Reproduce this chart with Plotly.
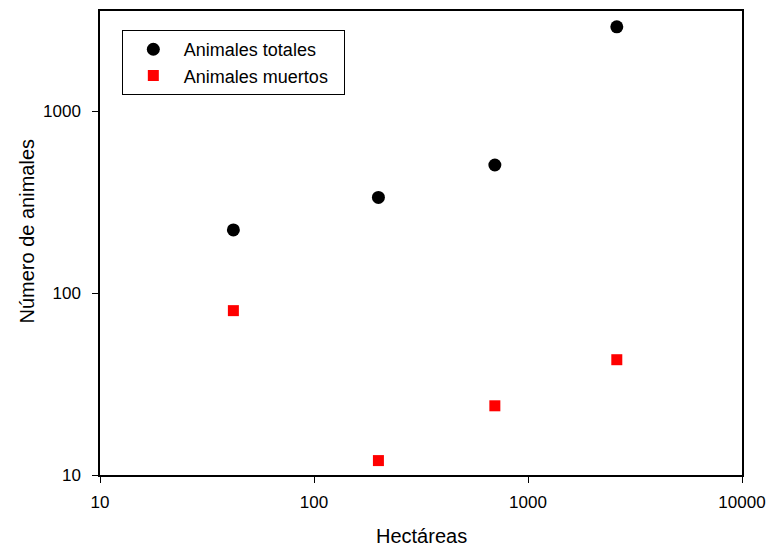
import plotly.graph_objects as go

hectareas = [42, 200, 700, 2600]
animales_totales = [222, 335, 505, 2900]
animales_muertos = [80, 12, 24, 43]

x_ticks = [10, 100, 1000, 10000]
y_ticks = [10, 100, 1000]

fig = go.Figure()
fig.add_trace(go.Scatter(x=hectareas, y=animales_totales, mode="markers",
                         name="Animales totales",
                         marker=dict(symbol="circle", size=13, color="black")))
fig.add_trace(go.Scatter(x=hectareas, y=animales_muertos, mode="markers",
                         name="Animales muertos\u00a0\u00a0",
                         marker=dict(symbol="square", size=11, color="#ff0000")))

font = "Liberation Sans, Arial, sans-serif"
axis_common = dict(type="log", showgrid=False, zeroline=False, showline=True,
                   linecolor="black", linewidth=1.5, mirror=True, automargin=False,
                   ticks="outside", ticklen=6, tickcolor="black", tickwidth=1,
                   tickfont=dict(family=font, size=17, color="black"))

fig.update_layout(
    width=770, height=549,
    margin=dict(l=100, r=28, t=11, b=74, autoexpand=False),
    paper_bgcolor="white", plot_bgcolor="white",
    font=dict(family=font, color="black"),
    xaxis=dict(range=[1, 4], tickvals=x_ticks, ticktext=[str(v) for v in x_ticks],
               ticklabelstandoff=5,
               **axis_common),
    yaxis=dict(range=[1, 3.5495], tickvals=y_ticks, ticktext=[str(v) for v in y_ticks],
               ticklabelstandoff=8,
               **axis_common),
    annotations=[
        dict(text="Número de animales", xref="paper", yref="paper",
             x=-0.1137, y=0.5248, xanchor="center", yanchor="middle",
             textangle=-90, showarrow=False, font=dict(size=20)),
        dict(text="Hectáreas", xref="paper", yref="paper",
             x=0.5, y=-0.1315, xanchor="center", yanchor="middle",
             showarrow=False, font=dict(size=20)),
    ],
    legend=dict(x=0.034, y=0.959, xanchor="left", yanchor="top",
                bordercolor="black", borderwidth=1, bgcolor="white",
                font=dict(size=18, family=font), itemwidth=51,
                tracegroupgap=0),
    showlegend=True,
)

fig.write_html("out.html", config={"displayModeBar": False},
               post_script="document.body.style.margin='0';")
